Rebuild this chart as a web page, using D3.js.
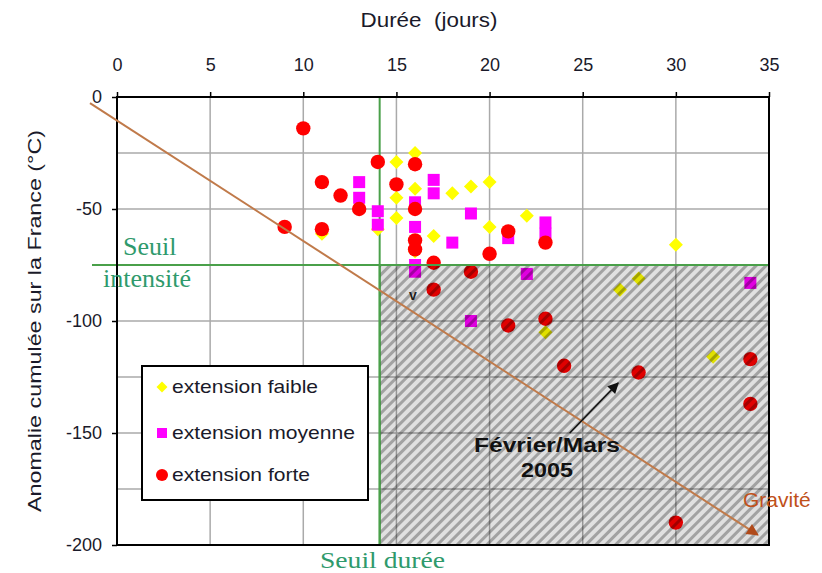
<!DOCTYPE html>
<html><head><meta charset="utf-8">
<script src="https://cdn.jsdelivr.net/npm/d3@7"></script>
<style>body{margin:0;background:#fff}svg{display:block}</style>
</head><body>
<svg id="c" width="822" height="573"></svg>
<script>
// ---- data ----
const xTicks = [0, 5, 10, 15, 20, 25, 30, 35];
const yTicks = [0, -50, -100, -150, -200];
const xGrid = [5, 10, 15, 20, 25, 30];
const yGrid = [-25, -50, -75, -100, -125, -150, -175];
const seriesNames = ["extension faible", "extension moyenne", "extension forte"];
// [durée (jours), anomalie cumulée (°C)]
const faible = [[15,-29],[16,-25],[16,-41],[15,-45],[15,-54],[14,-59],[11,-61],[17,-62],[18,-43],[19,-40],[20,-38],[20,-58],[16,-69],[22,-53],[30,-66],[27,-86],[28,-81],[23,-105],[32,-116]];
const moyenne = [[13,-38],[13,-45],[14,-51],[14,-57],[16,-47],[16,-58],[16,-75],[16,-78],[17,-37],[17,-43],[18,-65],[19,-52],[21,-63],[22,-79],[23,-56],[23,-61],[19,-100],[34,-83]];
const forte = [[10,-14],[9,-58],[11,-38],[11,-59],[12,-44],[13,-50],[14,-29],[15,-39],[16,-30],[16,-50],[16,-64],[16,-68],[17,-74],[17,-86],[19,-78],[20,-70],[21,-60],[21,-102],[23,-65],[23,-99],[24,-120],[28,-123],[30,-190],[34,-117],[34,-137]];
const seuilDuree = 14.1;
const seuilIntensite = -75;
const gravite = [[-1.45,-2.7],[34.4,-195.5]];
const fevrierArrow = [[24.3,-150],[26.9,-127.7]];

// ---- setup ----
const svg = d3.select("#c");
const x = d3.scaleLinear().domain([0,35]).range([117,769]);
const y = d3.scaleLinear().domain([0,-200]).range([97,545]);
const font = "'Liberation Sans', Arial, sans-serif";
const serif = "'Liberation Serif', 'Times New Roman', serif";
const green = "#2f9a6c";

const defs = svg.append("defs");
const pat = defs.append("pattern").attr("id","hatch").attr("patternUnits","userSpaceOnUse")
  .attr("width",7).attr("height",7).attr("patternTransform","rotate(45)");
pat.append("rect").attr("width",7).attr("height",7).attr("fill","rgba(0,0,0,0.12)");
pat.append("rect").attr("x",0).attr("width",3).attr("height",7).attr("fill","rgba(0,0,0,0.28)");
function arrowMarker(id, color, w, h){
  defs.append("marker").attr("id",id).attr("viewBox","0 0 10 10").attr("refX",9).attr("refY",5)
    .attr("markerWidth",w).attr("markerHeight",h).attr("orient","auto").attr("markerUnits","userSpaceOnUse")
    .append("path").attr("d","M0,0L10,5L0,10z").attr("fill",color);
}
arrowMarker("arrG","#b04a1a",14,12);
arrowMarker("arrB","#111",13,11);

// grid
const g = svg.append("g");
g.selectAll(".gx").data(xGrid).join("line").attr("x1",d=>x(d)).attr("x2",d=>x(d))
  .attr("y1",y(0)).attr("y2",y(-200)).attr("stroke","#aaa").attr("stroke-width",1.5);
g.selectAll(".gy").data(yGrid).join("line").attr("y1",d=>y(d)).attr("y2",d=>y(d))
  .attr("x1",x(0)).attr("x2",x(35)).attr("stroke","#aaa").attr("stroke-width",1.5);

// threshold lines
svg.append("line").attr("x1",x(seuilDuree)).attr("x2",x(seuilDuree)).attr("y1",y(0)).attr("y2",y(-200))
  .attr("stroke","#4aa04a").attr("stroke-width",2);
svg.append("line").attr("x1",92).attr("x2",x(35)).attr("y1",y(seuilIntensite)).attr("y2",y(seuilIntensite))
  .attr("stroke","#4aa04a").attr("stroke-width",2);

// points
const pts = svg.append("g");
pts.selectAll(".f").data(faible).join("path")
  .attr("d", d3.symbol(d3.symbolSquare, 98))
  .attr("transform", d=>`translate(${x(d[0])},${y(d[1])}) rotate(45)`)
  .attr("fill","#ffff00");
pts.selectAll(".m").data(moyenne).join("rect")
  .attr("x",d=>x(d[0])-6).attr("y",d=>y(d[1])-6).attr("width",12).attr("height",12)
  .attr("fill","#ff00ff");
pts.selectAll(".r").data(forte).join("circle")
  .attr("cx",d=>x(d[0])).attr("cy",d=>y(d[1])).attr("r",7.2).attr("fill","#ff0000");

// hatched zone
svg.append("rect").attr("x",x(seuilDuree)).attr("y",y(seuilIntensite))
  .attr("width",x(35)-x(seuilDuree)).attr("height",y(-200)-y(seuilIntensite))
  .attr("fill","url(#hatch)").attr("stroke","#4aa04a").attr("stroke-width",2);

// frame
svg.append("rect").attr("x",x(0)).attr("y",y(0)).attr("width",x(35)-x(0)).attr("height",y(-200)-y(0))
  .attr("fill","none").attr("stroke","#000").attr("stroke-width",2);

// axes
const ax = svg.append("g").attr("transform",`translate(0,${y(0)})`)
  .call(d3.axisTop(x).tickValues(xTicks).tickSize(5).tickPadding(21).tickFormat(d=>String(d)));
const ay = svg.append("g").attr("transform",`translate(${x(0)},0)`)
  .call(d3.axisLeft(y).tickValues(yTicks).tickSize(5).tickPadding(10).tickFormat(d=>String(d)));
[ax,ay].forEach(a=>{
  a.select(".domain").remove();
  a.selectAll(".tick line").attr("stroke","#000").attr("stroke-width",1.5);
  a.selectAll(".tick text").attr("font-family",font).attr("font-size",18).attr("fill","#1a1a2a");
});

// gravité arrow
svg.append("line").attr("x1",x(gravite[0][0])).attr("y1",y(gravite[0][1]))
  .attr("x2",x(gravite[1][0])).attr("y2",y(gravite[1][1]))
  .attr("stroke","#c07a4a").attr("stroke-width",2).attr("marker-end","url(#arrG)");
svg.append("text").attr("x",743).attr("y",507).attr("font-family",font).attr("font-size",21)
  .attr("fill","#c0501a").text("Gravité");

// Février/Mars annotation
svg.append("line").attr("x1",x(fevrierArrow[0][0])).attr("y1",y(fevrierArrow[0][1]))
  .attr("x2",x(fevrierArrow[1][0])).attr("y2",y(fevrierArrow[1][1]))
  .attr("stroke","#111").attr("stroke-width",1.5).attr("marker-end","url(#arrB)");
svg.append("text").attr("x",547).attr("y",452).attr("font-family",font).attr("font-size",20)
  .attr("font-weight","bold").attr("fill","#111").attr("text-anchor","middle")
  .attr("textLength",146).attr("lengthAdjust","spacingAndGlyphs").text("Février/Mars");
svg.append("text").attr("x",547).attr("y",477).attr("font-family",font).attr("font-size",21)
  .attr("font-weight","bold").attr("fill","#111").attr("text-anchor","middle")
  .attr("textLength",52).attr("lengthAdjust","spacingAndGlyphs").text("2005");
svg.append("text").attr("x",413).attr("y",300).attr("font-family",font).attr("font-size",14)
  .attr("font-weight","bold").attr("fill","#222").attr("text-anchor","middle").text("v");

// threshold labels
svg.append("text").attr("x",123).attr("y",255).attr("font-family",serif).attr("font-size",26)
  .attr("fill",green).text("Seuil");
svg.append("text").attr("x",103).attr("y",287).attr("font-family",serif).attr("font-size",26)
  .attr("fill",green).text("intensité");
svg.append("text").attr("x",320).attr("y",568).attr("font-family",serif).attr("font-size",24)
  .attr("fill",green).attr("textLength",125).attr("lengthAdjust","spacingAndGlyphs").text("Seuil durée");

// titles
svg.append("text").attr("x",429).attr("y",27).attr("text-anchor","middle").attr("font-family",font)
  .attr("font-size",20).attr("fill","#1a1a2a").attr("xml:space","preserve")
  .attr("textLength",137).attr("lengthAdjust","spacingAndGlyphs").text("Durée  (jours)");
svg.append("text").attr("transform","translate(41,321) rotate(-90)").attr("text-anchor","middle")
  .attr("font-family",font).attr("font-size",18).attr("fill","#1a1a2a")
  .attr("textLength",382).attr("lengthAdjust","spacingAndGlyphs")
  .text("Anomalie cumulée sur la France (°C)");

// legend
const lg = svg.append("g");
lg.append("rect").attr("x",142).attr("y",366).attr("width",226).attr("height",134)
  .attr("fill","#fff").attr("stroke","#000").attr("stroke-width",2);
const ly = [387, 433, 475];
const lw = [146, 183, 138];
lg.append("path").attr("d",d3.symbol(d3.symbolSquare,60)).attr("transform",`translate(162,${ly[0]}) rotate(45)`).attr("fill","#ffff00");
lg.append("rect").attr("x",157).attr("y",ly[1]-5).attr("width",10).attr("height",10).attr("fill","#ff00ff");
lg.append("circle").attr("cx",162).attr("cy",ly[2]).attr("r",6).attr("fill","#ff0000");
lg.selectAll("text.l").data(seriesNames).join("text").attr("x",172).attr("y",(d,i)=>ly[i]+6)
  .attr("font-family",font).attr("font-size",19).attr("fill","#1a1a2a")
  .attr("textLength",(d,i)=>lw[i]).attr("lengthAdjust","spacingAndGlyphs").text(d=>d);
</script>
</body></html>
